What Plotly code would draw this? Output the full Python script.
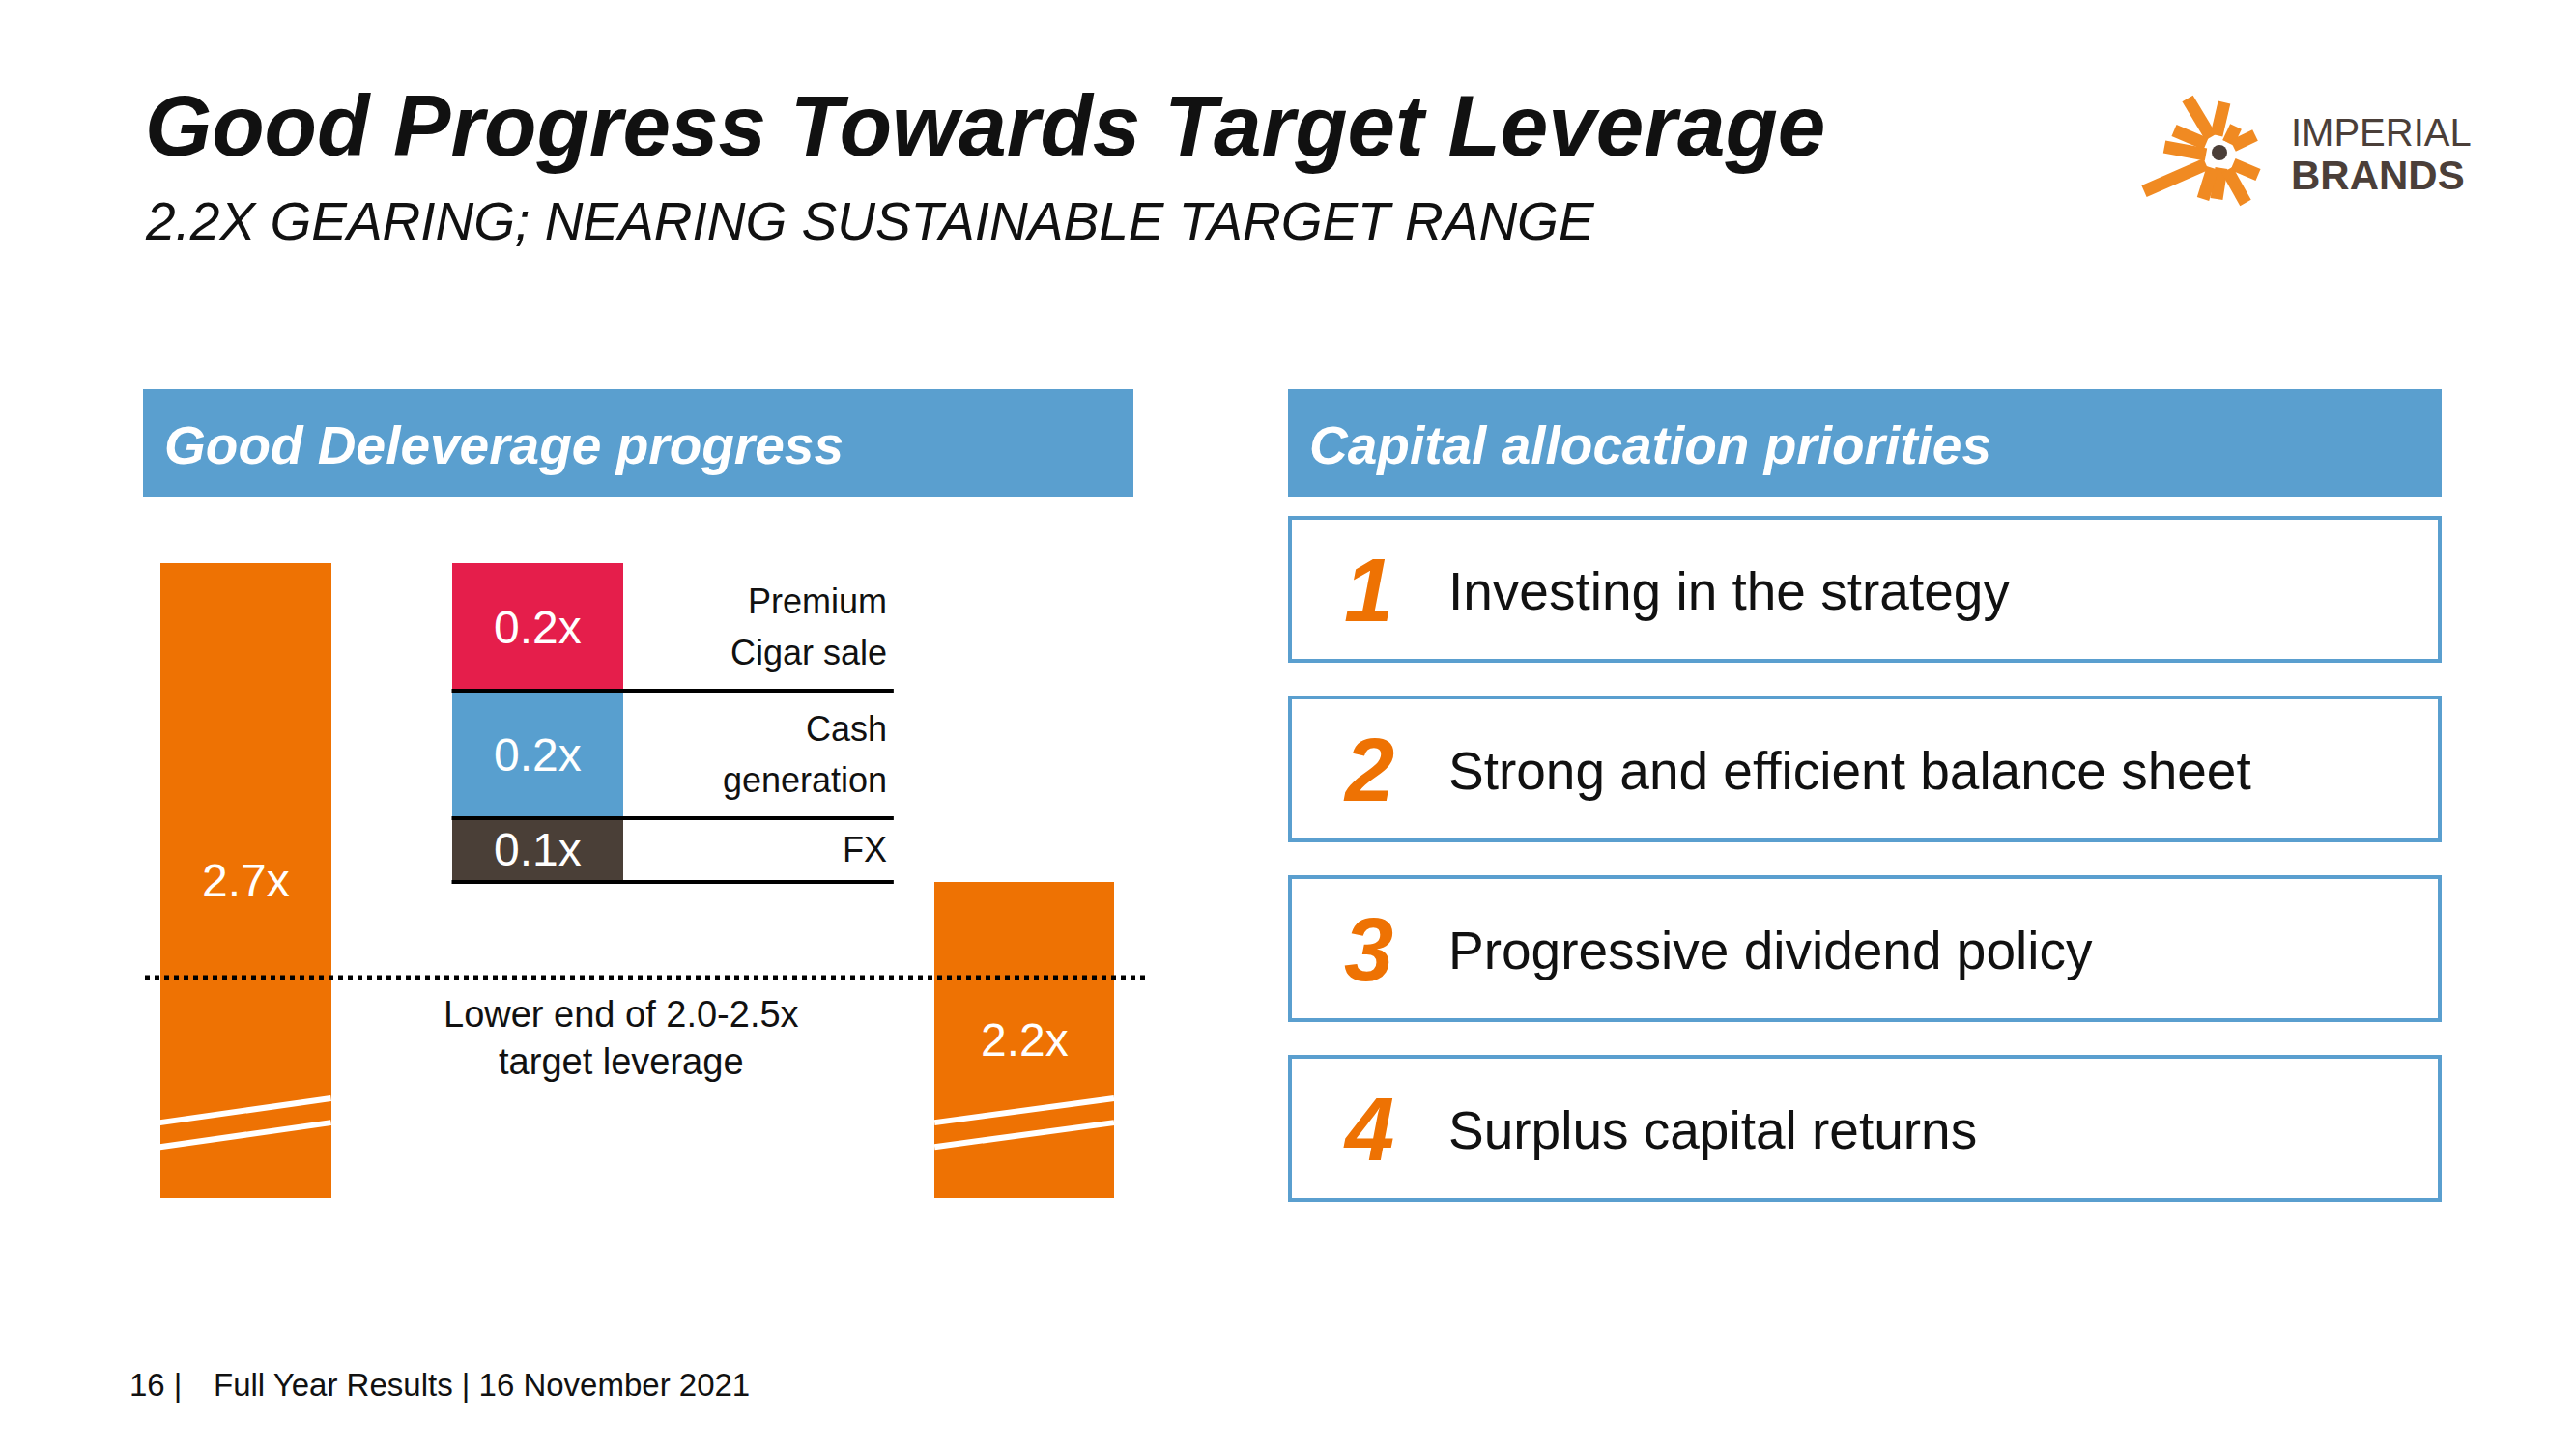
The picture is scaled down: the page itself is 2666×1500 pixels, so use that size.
import plotly.graph_objects as go

# The page body has an 8px margin; the figure is sized to fit inside it.
PAGE_W, PAGE_H = 2666, 1500
OFF = 8
W, H = PAGE_W - 2 * OFF, PAGE_H - 2 * OFF

# ---------------- data ----------------
opening_leverage = 2.7
closing_leverage = 2.2
bridge_labels = ["Premium<br>Cigar sale", "Cash<br>generation", "FX"]
bridge_values = [0.2, 0.2, 0.1]
target_line_value = 2.05          # dotted line as drawn ("Lower end of 2.0-2.5x")
target_label = "Lower end of 2.0-2.5x<br>target leverage"
axis_floor = 1.7045               # broken-axis start of the bars
priority_numbers = ["1", "2", "3", "4"]
priority_labels = [
    "Investing in the strategy",
    "Strong and efficient balance sheet",
    "Progressive dividend policy",
    "Surplus capital returns",
]

# ---------------- styles ----------------
ORANGE = "#EE7203"
RED = "#E51E4B"
BLUE = "#589FCF"
BROWN = "#4A3F37"
HEADER = "#5A9FCF"
LOGO_ORANGE = "#F08A22"
LOGO_DARK = "#4B3F39"
bridge_colors = [RED, BLUE, BROWN]
FONT = "Liberation Sans, Arial, sans-serif"


def px(x):
    return (x - OFF) / W


def py(y):
    return 1 - (y - OFF) / H


# x layout (in axis units)
X_OPEN, X_BRIDGE, X_CLOSE = 0.0, 1.706, 4.554
X_RANGE = [-0.588, 5.288]
X_LABEL_RIGHT = 3.763
X_SEP_RIGHT = 3.79
Y_TOP = 2.7652
LABEL_LINE_STEP = 0.079   # line spacing of bridge descriptions (axis units)

fig = go.Figure()

fig.add_trace(go.Bar(
    x=[X_OPEN, X_CLOSE], y=[opening_leverage, closing_leverage],
    width=[1.0, 1.05], marker=dict(color=ORANGE, line=dict(width=0)),
    hoverinfo="skip", showlegend=False,
))

bases = []
running = opening_leverage
for v in bridge_values:
    running = round(running - v, 4)
    bases.append(running)

fig.add_trace(go.Bar(
    x=[X_BRIDGE] * len(bridge_values), y=bridge_values, base=bases,
    width=1.0, marker=dict(color=bridge_colors, line=dict(width=0)),
    hoverinfo="skip", showlegend=False,
))

shapes = []
annotations = []

# value labels on main bars
for xv, val, wv in [(X_OPEN, opening_leverage, 1.0), (X_CLOSE, closing_leverage, 1.05)]:
    annotations.append(dict(
        x=xv, y=(axis_floor + val) / 2, xref="x", yref="y",
        text=f"{val:.1f}x", showarrow=False,
        font=dict(family=FONT, size=48, color="white"),
        xanchor="center", yanchor="middle",
    ))
    # break marks
    for lo, hi in [(0.080, 0.118), (0.118, 0.156)]:
        shapes.append(dict(
            type="line", xref="x", yref="y",
            x0=xv - wv / 2, x1=xv + wv / 2,
            y0=axis_floor + lo, y1=axis_floor + hi,
            line=dict(color="white", width=6), layer="above",
        ))

# bridge labels & separator lines
for b, v, lab in zip(bases, bridge_values, bridge_labels):
    annotations.append(dict(
        x=X_BRIDGE, y=b + v / 2, xref="x", yref="y",
        text=f"{v:.1f}x", showarrow=False,
        font=dict(family=FONT, size=48, color="white"),
        xanchor="center", yanchor="middle",
    ))
    lines = lab.split("<br>")
    n = len(lines)
    for i, line in enumerate(lines):
        annotations.append(dict(
            x=X_LABEL_RIGHT, y=b + v / 2 + ((n - 1) / 2 - i) * LABEL_LINE_STEP,
            xref="x", yref="y",
            text=line, showarrow=False, align="right",
            font=dict(family=FONT, size=36, color="#111111"),
            xanchor="right", yanchor="middle",
        ))
    shapes.append(dict(
        type="line", xref="x", yref="y",
        x0=X_BRIDGE - 0.5, x1=X_SEP_RIGHT, y0=b, y1=b,
        line=dict(color="black", width=4), layer="above",
    ))

# target dotted line
shapes.append(dict(
    type="line", xref="x", yref="y",
    x0=X_RANGE[0], x1=X_RANGE[1], y0=target_line_value, y1=target_line_value,
    line=dict(color="black", width=5, dash="dot"), layer="above",
))
annotations.append(dict(
    x=2.198, y=target_line_value - 0.095, xref="x", yref="y",
    text=target_label, showarrow=False, align="center",
    font=dict(family=FONT, size=38, color="#111111"),
    xanchor="center", yanchor="middle",
))

# ---------------- titles ----------------
annotations.append(dict(
    x=px(148), y=py(130), xref="paper", yref="paper",
    text="<b><i>Good Progress Towards Target Leverage</i></b>",
    showarrow=False, xanchor="left", yanchor="middle",
    font=dict(family=FONT, size=89, color="#111111"),
))
annotations.append(dict(
    x=px(148), y=py(229), xref="paper", yref="paper",
    text="<i>2.2X GEARING; NEARING SUSTAINABLE TARGET RANGE</i>",
    showarrow=False, xanchor="left", yanchor="middle",
    font=dict(family=FONT, size=55, color="#111111"),
))

# section headers
for (x0, x1, tx, txt) in [(148, 1173, 168, "Good Deleverage progress"),
                          (1333, 2527, 1353, "Capital allocation priorities")]:
    shapes.append(dict(
        type="rect", xref="paper", yref="paper",
        x0=px(x0), x1=px(x1), y0=py(515), y1=py(403),
        fillcolor=HEADER, line=dict(width=0), layer="below",
    ))
    annotations.append(dict(
        x=px(tx), y=py(461), xref="paper", yref="paper",
        text=f"<b><i>{txt}</i></b>", showarrow=False,
        xanchor="left", yanchor="middle",
        font=dict(family=FONT, size=55, color="white"),
    ))

# priority boxes
BOX_TOP0, BOX_PITCH, BOX_H = 536, 186, 148
for i, (num, lab) in enumerate(zip(priority_numbers, priority_labels)):
    top = BOX_TOP0 + i * BOX_PITCH
    shapes.append(dict(
        type="rect", xref="paper", yref="paper",
        x0=px(1335), x1=px(2525), y0=py(top + BOX_H), y1=py(top),
        fillcolor="white", line=dict(color=HEADER, width=4), layer="below",
    ))
    cy = top + BOX_H / 2
    annotations.append(dict(
        x=px(1416), y=py(cy + 1), xref="paper", yref="paper",
        text=f"<b><i>{num}</i></b>", showarrow=False,
        xanchor="center", yanchor="middle",
        font=dict(family=FONT, size=92, color=ORANGE),
    ))
    annotations.append(dict(
        x=px(1497), y=py(cy + 2), xref="paper", yref="paper",
        text=lab, showarrow=False, xanchor="left", yanchor="middle",
        font=dict(family=FONT, size=55, color="#111111"),
    ))

# footer
annotations.append(dict(
    x=px(132), y=py(1433), xref="paper", yref="paper",
    text="16 |", showarrow=False, xanchor="left", yanchor="middle",
    font=dict(family=FONT, size=33, color="#111111"),
))
annotations.append(dict(
    x=px(219), y=py(1433), xref="paper", yref="paper",
    text="Full Year Results | 16 November 2021", showarrow=False,
    xanchor="left", yanchor="middle",
    font=dict(family=FONT, size=33, color="#111111"),
))

# ---------------- logo ----------------
CX, CY = 2297, 158
strokes = [
    ((-33, -56), (-9, -16)),
    ((5, -52), (-3, -18)),
    ((-47, -23), (-14, -9)),
    ((-57, -6), (-14, 2)),
    ((-78, 40), (-14, 12)),
    ((17, -27), (9, -10)),
    ((37, -18), (14, -7)),
    ((14, 12), (40, 23)),
    ((-3, 48), (2, 16)),
    ((27, 52), (8, 18)),
    ((-17, 48), (-7, 16)),
]
for (a, b) in strokes:
    shapes.append(dict(
        type="line", xref="paper", yref="paper",
        x0=px(CX + a[0]), y0=py(CY + a[1]), x1=px(CX + b[0]), y1=py(CY + b[1]),
        line=dict(color=LOGO_ORANGE, width=13), layer="above",
    ))
for r, col in [(13, "white"), (8, LOGO_DARK)]:
    shapes.append(dict(
        type="circle", xref="paper", yref="paper",
        x0=px(CX - r), x1=px(CX + r), y0=py(CY + r), y1=py(CY - r),
        fillcolor=col, line=dict(width=0), layer="above",
    ))
annotations.append(dict(
    x=px(2369), y=py(137), xref="paper", yref="paper",
    text="IMPERIAL", showarrow=False, xanchor="left", yanchor="middle",
    font=dict(family=FONT, size=40, color=LOGO_DARK),
))
annotations.append(dict(
    x=px(2369), y=py(182), xref="paper", yref="paper",
    text="<b>BRANDS</b>", showarrow=False, xanchor="left", yanchor="middle",
    font=dict(family=FONT, size=42, color=LOGO_DARK),
))

fig.update_layout(
    width=W, height=H,
    margin=dict(l=0, r=0, t=0, b=0),
    paper_bgcolor="white", plot_bgcolor="rgba(0,0,0,0)",
    barmode="overlay", bargap=0,
    showlegend=False,
    xaxis=dict(domain=[px(150), px(1190)], range=X_RANGE, visible=False,
               showgrid=False, zeroline=False, fixedrange=True),
    yaxis=dict(domain=[py(1240), py(540)], range=[axis_floor, Y_TOP], visible=False,
               showgrid=False, zeroline=False, fixedrange=True),
    shapes=shapes,
    annotations=annotations,
)

fig.write_html("out.html")
